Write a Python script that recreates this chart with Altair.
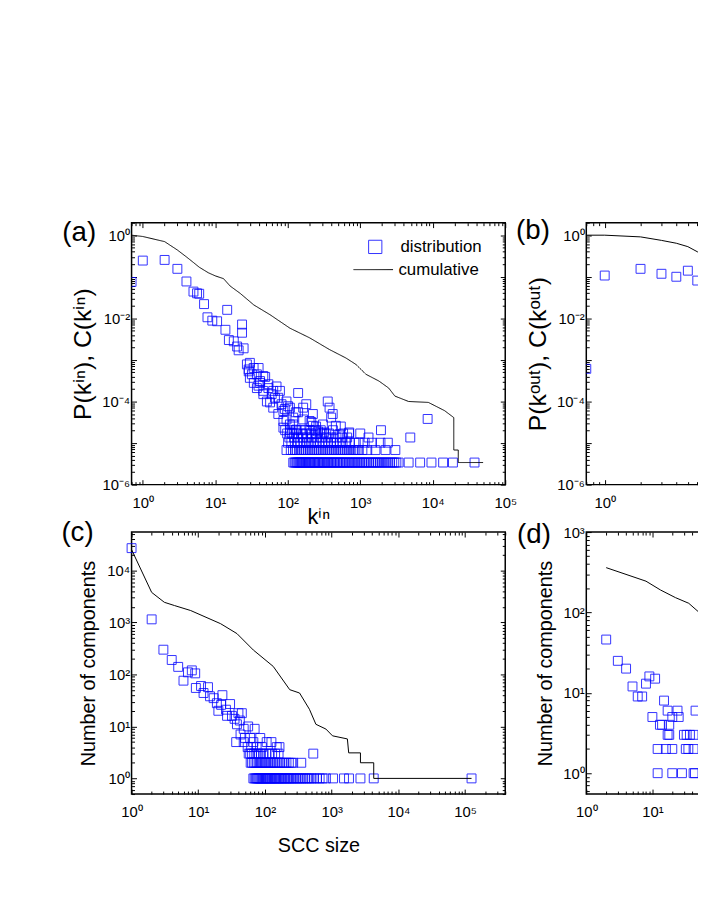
import math
import altair as alt
import pandas as pd

FONT = "Liberation Sans"
BLUE = "#0000ff"

# ---------------- Panel (a): in-degree ----------------
a_points = [(0.7, 0.075), (1, 0.245), (2, 0.254), (3, 0.155), (4, 0.077), (5, 0.044), (5.6, 0.040),
            (6, 0.039), (7, 0.022), (7.8, 0.0106), (9.1, 0.0088), (10.6, 0.0085), (13.8, 0.0053),
            (14.6, 0.016), (15.4, 0.0030), (18, 0.0028), (20, 0.0021), (21, 0.0017), (23.4, 0.0071),
            (23.4, 0.0045), (24.6, 0.0019), (27.3, 7.8e-4), (28.9, 5.3e-4), (28.9, 5.9e-4), (30, 8.5e-4),
            (30, 3.7e-4), (32, 4.5e-4), (33.8, 6.4e-4), (34, 2.8e-4), (37.5, 4.5e-4), (37.5, 2.1e-4),
            (39.5, 2.4e-4), (39.6, 6.4e-4), (41.5, 3.1e-4), (41.6, 2.8e-4), (46, 4.1e-4), (46, 1.8e-4),
            (46, 1.5e-4), (48.8, 3.9e-4), (51.5, 1.0e-4), (54, 2.6e-4), (54, 2.1e-4), (57, 9.5e-5),
            (60, 1.5e-4), (63, 1.8e-4), (63, 7.1e-5), (66.5, 1.23e-4), (70, 2.3e-4), (74, 1.23e-4),
            (74, 5e-5), (78, 1.8e-4), (82, 8.6e-5), (87, 5.9e-5), (87, 3.4e-5), (87, 2.35e-5),
            (91, 6.6e-5), (96, 1.0e-4), (96, 3.7e-5), (101, 7.7e-5), (107, 7.1e-5), (107, 2.8e-5),
            (107, 1.8e-5), (119, 2.8e-5), (119, 4.1e-5), (129, 5.5e-5), (131, 2.1e-5), (139, 1.6e-4),
            (139, 5.5e-5), (163, 3.7e-5), (163, 7.1e-5), (163, 1.63e-5), (180, 8.6e-5), (200, 3.4e-5),
            (211, 3.2e-5), (222, 5e-5), (222, 2.6e-5), (246, 2.5e-5), (262, 1.9e-5), (305, 2.8e-5),
            (318, 1.8e-5), (340, 1.63e-5), (356, 1.0e-4), (377, 7.1e-5), (397, 4.1e-5), (417, 5e-5),
            (460, 2.6e-5), (517, 1.63e-5), (540, 2.5e-5), (705, 1.8e-5), (8500, 3.8e-5)]
a_row_1 = [119, 124, 128, 133, 137, 142, 147, 152, 158, 163, 170, 176, 182, 189, 196, 204, 212, 221,
           229, 238, 248, 258, 269, 280, 292, 305, 318, 332, 347, 362, 378, 396, 414, 433, 453, 476,
           498, 522, 548, 575, 603, 633, 665, 700, 737, 775, 816, 860, 905, 954, 1005, 1060, 1120,
           1180, 1250, 1320, 1400, 1480, 1570, 1660, 1760, 1870, 1990, 2120, 2260, 2410, 2580, 2760,
           2950, 3150, 3380, 4650, 6700, 9600, 13900, 19000, 37700]
a_row_2 = [96, 110, 118, 126, 134, 143, 152, 160, 170, 180, 192, 203, 215, 228, 242, 256, 272, 288,
           305, 324, 343, 365, 388, 410, 436, 462, 490, 520, 552, 585, 620, 660, 700, 740, 790, 840,
           890, 950, 1070, 1250, 1620, 2230, 3050]
a_row_3 = [101, 112, 125, 138, 150, 165, 178, 195, 210, 232, 250, 275, 300, 330, 360, 395, 430, 470,
           520, 570, 640, 720, 830, 950, 1150, 1450, 1900, 2400]
a_row_4 = [105, 122, 140, 160, 185, 215, 250, 290, 340, 400, 470, 560, 660, 1300, 4900]
a_row_5 = [98, 115, 135, 155, 180, 210, 245, 300, 370, 580, 700, 1000]
a_row_6 = [92, 108, 128, 150, 175, 205, 240, 285, 420, 1930]
a_row_levels = [3.4e-6, 6.8e-6, 1.02e-5, 1.36e-5, 1.7e-5, 2.04e-5]
a_cum_k = [0.7, 1, 2, 3, 4, 5, 6, 8, 10, 13, 16, 22, 34, 57, 107, 200, 377, 635, 870, 1200, 1810,
           2470, 3000, 4640, 8700, 14600, 19500, 19500, 22500, 22500, 49500]
a_cum_c = [1.0, 0.93, 0.70, 0.44, 0.30, 0.22, 0.17, 0.125, 0.105, 0.09, 0.06, 0.04, 0.021, 0.0122,
           0.0058, 0.0034, 0.00177, 0.00111, 7.8e-4, 4.5e-4, 3.1e-4, 2.1e-4, 1.35e-4, 1.0e-4, 9.5e-5,
           6e-5, 4.1e-5, 6.8e-6, 6.8e-6, 3.4e-6, 3.4e-6]

# ---------------- Panel (b): out-degree ----------------
b_points = [(0.7, 6.1e-4), (1, 0.107), (2, 0.155), (3, 0.118), (4, 0.10), (5, 0.14), (6, 0.081)]
b_cum_k = [0.7, 1, 2, 3, 4, 5, 6, 7]
b_cum_c = [1.0, 1.0, 0.91, 0.75, 0.64, 0.53, 0.40, 0.31]

# ---------------- Panel (c): SCC sizes ----------------
c_points = [(1, 27000), (2, 1150), (3, 300), (4, 190), (5, 140), (6, 76), (7, 110), (8, 120), (9, 105),
            (9.2, 55), (11, 60), (12, 44), (14, 57), (15, 38), (17, 35), (19, 28), (20, 20), (22, 26),
            (23, 40), (26, 21), (27, 16), (30, 27), (32, 16), (35, 14), (38, 11), (40, 18), (42, 13),
            (45, 18), (48, 9), (56, 10), (70, 9), (37, 5), (48, 5), (43, 7), (50, 6), (60, 6), (67, 5),
            (85, 6), (106, 5), (125, 5), (150, 4), (165, 4), (55, 4), (62, 4), (75, 4), (90, 4)]
c_row_1 = [67, 70, 73, 76, 79, 82, 85, 88, 92, 95, 99, 103, 107, 111, 116, 120, 125, 130, 136, 141,
           147, 153, 160, 167, 175, 183, 192, 201, 211, 222, 234, 247, 260, 275, 292, 310, 330, 352,
           376, 402, 430, 462, 500, 545, 600, 660, 730, 820, 1050, 1530, 1820, 2700, 4270, 125000]
c_row_2 = [61, 64, 68, 72, 76, 80, 85, 90, 95, 100, 106, 112, 118, 125, 133, 141, 150, 160, 170, 182,
           195, 210, 228, 248, 265, 350]
c_row_3 = [57, 60, 64, 69, 74, 80, 87, 95, 105, 115, 128, 142, 160, 530]
c_row_levels = [1, 2, 3]
c_cum_k = [1, 2, 3.1, 4.4, 7.7, 21.6, 38, 67, 133, 235, 330, 464, 580, 820, 1030, 1720, 1800, 2700,
           2700, 4270, 4270, 125000]
c_cum_c = [25300, 3800, 2450, 2120, 1700, 950, 612, 295, 143, 51, 44, 21.4, 11, 8.9, 6.6, 5.75, 3.1,
           3.1, 2, 2, 1, 1]

# ---------------- Panel (d): WCC sizes ----------------
d_points = [(2, 46), (3, 25), (4, 20), (5, 12), (6, 9), (7, 9), (8, 13), (9, 16), (10, 5), (11, 15),
            (13, 4), (14, 4), (15, 8), (17, 6), (17, 3), (18, 4), (20, 5), (24, 6), (25, 5), (45, 6)]
d_row_1 = [12, 20, 28, 42, 44]
d_row_2 = [12, 16, 20, 32, 35, 42]
d_row_3 = [18, 30, 33, 37, 42]
d_row_levels = [1, 2, 3]
d_cum_k = [2, 8, 13.3, 22.3, 35.5, 49, 60]
d_cum_c = [361, 245, 190, 153, 130, 103, 90]

SUPMAP = str.maketrans("0123456789-", "⁰¹²³⁴⁵⁶⁷⁸⁹⁻")


def tick_sets(lo, hi):
    e0 = math.floor(math.log10(lo) + 1e-9)
    e1 = math.ceil(math.log10(hi) - 1e-9)
    major, minor = [], []
    for e in range(e0 - 1, e1 + 1):
        base = 10.0 ** e
        if lo * 0.9999 <= base <= hi * 1.0001:
            major.append(base)
        for m in range(2, 10):
            v = m * base
            if lo <= v <= hi:
                minor.append(v)
    return major, minor, e0 - 1, e1 + 1


def label_expr(e0, e1, every=1, emax=99):
    labs = [("10" + str(e).translate(SUPMAP)) if (e % every == 0 and e <= emax) else ""
            for e in range(e0, e1 + 1)]
    return f"{labs!r}[round(log(datum.value)/LN10) - ({e0})]"


def axis(orient, vals, major, **kw):
    size = 5 if major else 3
    d = dict(orient=orient, values=vals, tickSize=size, offset=-size, domain=False, grid=False,
             tickColor="black", tickWidth=1, labels=False, title=None)
    d.update(kw)
    return alt.Axis(**d)


def points_df(points, rows, levels):
    ks = [p[0] for p in points]
    vs = [p[1] for p in points]
    for row, lvl in zip(rows, levels):
        ks += row
        vs += [lvl] * len(row)
    df = pd.DataFrame({"k": ks, "v": vs})
    df["s"] = "distribution"
    return df


def cum_df(ks, cs):
    df = pd.DataFrame({"k": ks, "v": cs, "i": list(range(len(ks)))})
    df["s2"] = "cumulative"
    return df


def panel(pdf, cdf, xdom, ydom, letter, letter_xy, xtitle, xtitle_size, xtitle_pad,
          ytitle, ytitle_size, ytitle_pad, clip_pts, ylab_every=1, xlab_emax=99, legend=False):
    xs = alt.Scale(type="log", domain=list(xdom), nice=False)
    ys = alt.Scale(type="log", domain=list(ydom), nice=False)
    xmaj, xmin, xe0, xe1 = tick_sets(*xdom)
    ymaj, ymin, ye0, ye1 = tick_sets(*ydom)
    lab = dict(labels=True, labelFont=FONT, labelFontSize=15, labelColor="black",
               labelFlush=False, labelOverlap=False)
    ttl = dict(titleFont=FONT, titleFontWeight="normal", titleColor="black")
    xt = dict(title=xtitle, titleFontSize=xtitle_size, titlePadding=xtitle_pad, **ttl) if xtitle else {}
    ax_b = axis("bottom", xmaj, True, labelExpr=label_expr(xe0, xe1, 1, xlab_emax), labelPadding=11,
                **xt, **lab)
    ax_l = axis("left", ymaj, True, labelExpr=label_expr(ye0, ye1, ylab_every), labelPadding=2,
                title=ytitle, titleFontSize=ytitle_size, titlePadding=ytitle_pad, **ttl, **lab)

    enc = dict(x=alt.X("k:Q", scale=xs, axis=ax_b), y=alt.Y("v:Q", scale=ys, axis=ax_l))
    if legend:
        pts = alt.Chart(pdf).mark_point(filled=False, size=81, strokeWidth=1, color=BLUE,
                                         opacity=0.8, clip=clip_pts).encode(
            shape=alt.Shape("s:N", scale=alt.Scale(domain=["distribution"], range=["square"]),
                            legend=alt.Legend(title=None, orient="none", legendX=238, legendY=16,
                                              symbolSize=180, symbolStrokeColor=BLUE,
                                              symbolStrokeWidth=1, labelFont=FONT, labelFontSize=17,
                                              labelColor="black", labelOffset=17, padding=0)),
            **enc)
    else:
        pts = alt.Chart(pdf).mark_point(shape="square", filled=False, size=81, strokeWidth=1,
                                         color=BLUE, opacity=0.8, clip=clip_pts).encode(**enc)

    lenc = dict(x=alt.X("k:Q", scale=xs, axis=axis("top", xmaj, True)),
                y=alt.Y("v:Q", scale=ys, axis=axis("right", ymaj, True)),
                order=alt.Order("i:Q"))
    if legend:
        line = alt.Chart(cdf).mark_line(color="black", strokeWidth=1, clip=True).encode(
            strokeDash=alt.StrokeDash("s2:N", scale=alt.Scale(domain=["cumulative"], range=[[1, 0]]),
                                      legend=alt.Legend(title=None, orient="none", legendX=224,
                                                        legendY=27, symbolType="stroke",
                                                        symbolSize=1600, symbolStrokeColor="black",
                                                        symbolStrokeWidth=1, labelFont=FONT,
                                                        labelFontSize=17, labelColor="black",
                                                        labelOffset=5, padding=0)),
            **lenc)
    else:
        line = alt.Chart(cdf).mark_line(color="black", strokeWidth=1, clip=True).encode(**lenc)

    m1 = alt.Chart(cdf).mark_line(strokeOpacity=0).encode(
        x=alt.X("k:Q", scale=xs, axis=axis("bottom", xmin, False)),
        y=alt.Y("v:Q", scale=ys, axis=axis("left", ymin, False)), order=alt.Order("i:Q"))
    m2 = alt.Chart(cdf).mark_line(strokeOpacity=0).encode(
        x=alt.X("k:Q", scale=xs, axis=axis("top", xmin, False)),
        y=alt.Y("v:Q", scale=ys, axis=axis("right", ymin, False)), order=alt.Order("i:Q"))

    tag = alt.Chart(pd.DataFrame({"t": [letter]})).mark_text(
        font=FONT, fontSize=28, align="left", baseline="middle", color="black").encode(
        text="t:N", x=alt.value(letter_xy[0]), y=alt.value(letter_xy[1]))

    return alt.layer(pts, line, m1, m2, tag).resolve_axis(x="independent", y="independent").properties(
        width=378, height=265)


pa = panel(points_df(a_points, [a_row_1, a_row_2, a_row_3, a_row_4, a_row_5, a_row_6], a_row_levels),
           cum_df(a_cum_k, a_cum_c), (0.7, 1e5), (1e-6, 2), "(a)", (-70, 11),
           "kⁱⁿ", 22, -4, "P(kⁱⁿ), C(kⁱⁿ)", 25, 6, True, ylab_every=2, legend=True)
pb = panel(points_df(b_points, [], []), cum_df(b_cum_k, b_cum_c), (0.7, 970), (1e-6, 2), "(b)",
           (-71, 9), None, 22, -4, "P(kᵒᵘᵗ), C(kᵒᵘᵗ)", 25, 6, True, ylab_every=2, xlab_emax=0)
pc = panel(points_df(c_points, [c_row_1, c_row_2, c_row_3], c_row_levels), cum_df(c_cum_k, c_cum_c),
           (1, 4e5), (0.5, 5.5e4), "(c)", (-71, 1), "SCC size", 20, 16, "Number of components", 20, 8,
           False)
pd_ = panel(points_df(d_points, [d_row_1, d_row_2, d_row_3], d_row_levels), cum_df(d_cum_k, d_cum_c),
            (1, 4.5e5), (0.55, 1000), "(d)", (-70, 3), None, 20, 2, "Number of components", 20, 8,
            False, xlab_emax=1)

chart = alt.concat(pa, pb, pc, pd_, columns=2, spacing={"row": 48, "column": 82}, bounds="flush")
chart = chart.resolve_scale(shape="independent", strokeDash="independent").resolve_legend(
    shape="independent", strokeDash="independent")
chart = chart.properties(
    autosize=alt.AutoSizeParams(type="none"),
    padding={"left": 125, "top": 212, "right": 573, "bottom": 678},
    background="white").configure_view(stroke="black", strokeWidth=1.5)

chart.save("out.html", embed_options={"renderer": "svg", "actions": False})
